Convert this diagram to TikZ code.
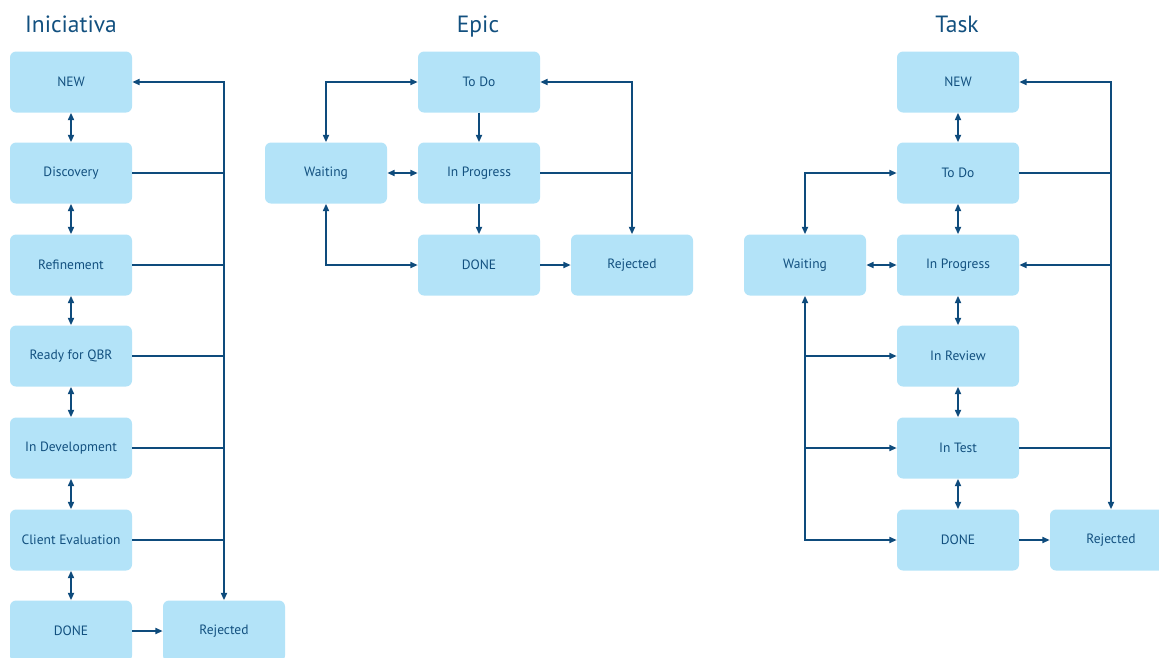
\documentclass[tikz,border=0pt]{standalone}
\usepackage{fontspec}
\setmainfont{PT Sans}
\usetikzlibrary{arrows.meta}
\definecolor{boxfill}{HTML}{B3E3F8}
\definecolor{ink}{HTML}{12507F}
\definecolor{wire}{HTML}{0E4B7C}
\begin{document}
\begin{tikzpicture}[x=1pt,y=-1pt,
  state/.style={rectangle, rounded corners=6pt, fill=boxfill, minimum width=122pt,
    minimum height=61pt, inner sep=0pt, text=ink, font=\fontsize{13.5}{15}\selectfont},
  heading/.style={text=ink, anchor=base, font=\fontsize{23.5}{28}\selectfont},
  link/.style={draw=wire, line width=2pt, >={Triangle[length=7.5pt,width=6pt]}},
]
\useasboundingbox (0,0) rectangle (1159,657);
\clip (0,0) rectangle (1159,657);

% column headings
\node[heading] (hi) at (71,32) {Iniciativa};
\node[heading] (he) at (478,32) {Epic};
\node[heading] (ht) at (957,32) {Task};

% ---- Iniciativa ----
\node[state] (i1) at (71,82)  {NEW};
\node[state] (i2) at (71,173) {Discovery};
\node[state] (i3) at (71,265) {Refinement};
\node[state] (i4) at (71,356) {Ready for QBR};
\node[state] (i5) at (71,448) {In Development};
\node[state] (i6) at (71,540) {Client Evaluation};
\node[state] (i7) at (71,631) {DONE};
\node[state] (ir) at (224,631) {Rejected};

\foreach \a/\b in {i1/i2,i2/i3,i3/i4,i4/i5,i5/i6,i6/i7}
  \draw[link,<->] (\a) -- (\b);
\draw[link,->] (i7) -- (ir);
\draw[link,<->] (i1.east) -| (ir.north);
\foreach \a in {i2,i3,i4,i5,i6}
  \draw[link] (\a.east) -- (\a.east -| ir.north);

% ---- Epic ----
\node[state] (e1) at (479,82)  {To Do};
\node[state] (e2) at (479,173) {In Progress};
\node[state] (e3) at (479,265) {DONE};
\node[state] (ew) at (326,173) {Waiting};
\node[state] (er) at (632,265) {Rejected};

\draw[link,<->] (ew.north) |- (e1.west);
\draw[link,->] (e1) -- (e2);
\draw[link,<->] (ew) -- (e2);
\draw[link,->] (e2) -- (e3);
\draw[link,<->] (ew.south) |- (e3.west);
\draw[link,->] (e3) -- (er);
\draw[link,<->] (e1.east) -| (er.north);
\draw[link] (e2.east) -- (e2.east -| er.north);

% ---- Task ----
\node[state] (t1) at (958,82)  {NEW};
\node[state] (t2) at (958,173) {To Do};
\node[state] (t3) at (958,265) {In Progress};
\node[state] (t4) at (958,356) {In Review};
\node[state] (t5) at (958,448) {In Test};
\node[state] (t6) at (958,540) {DONE};
\node[state] (tw) at (805,265) {Waiting};
\node[state] (tr) at (1111,540) {Rejected};

\foreach \a/\b in {t1/t2,t2/t3,t3/t4,t4/t5,t5/t6}
  \draw[link,<->] (\a) -- (\b);
\draw[link,<->] (tw) -- (t3);
\draw[link,<->] (tw.north) |- (t2.west);
\draw[link,<->] (tw.south) |- (t6.west);
\draw[link,->] (tw.south |- t4.west) -- (t4.west);
\draw[link,->] (tw.south |- t5.west) -- (t5.west);
\draw[link,->] (t6) -- (tr);
\draw[link,<->] (t1.east) -| (tr.north);
\draw[link,->] (t3.east -| tr.north) -- (t3.east);
\draw[link] (t2.east) -- (t2.east -| tr.north);
\draw[link] (t5.east) -- (t5.east -| tr.north);
\end{tikzpicture}
\end{document}
